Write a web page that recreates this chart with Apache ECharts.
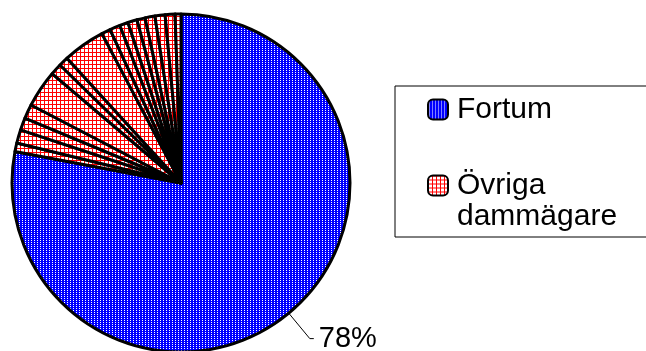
<!DOCTYPE html>
<html>
<head>
<meta charset="utf-8">
<script src="https://cdn.jsdelivr.net/npm/echarts@6/dist/echarts.min.js"></script>
<style>
html,body{margin:0;padding:0;background:#fff;}
#chart{width:646px;height:351px;}
</style>
</head>
<body>
<div id="chart"></div>
<script>
// ---- data ----
const categories = ['Fortum', 'Övriga dammägare'];
const fortumShare = [78];
// small owners, clockwise from the Fortum boundary up to 12 o'clock (percent)
const otherOwnerShares = [0.81, 1.28, 1.19, 1.36, 3.56, 1.11, 0.92, 4.03, 0.86, 1.0, 0.81, 0.89, 0.78, 0.94, 0.97, 0.94, 0.56];

function makePattern(w, h, bg, fg, pixels) {
  const c = document.createElement('canvas');
  c.width = w; c.height = h;
  const ctx = c.getContext('2d');
  ctx.fillStyle = bg; ctx.fillRect(0, 0, w, h);
  ctx.fillStyle = fg;
  pixels.forEach(p => ctx.fillRect(p[0], p[1], 1, 1));
  return { image: c, repeat: 'repeat' };
}
const bluePattern = makePattern(3, 2, '#0000ff', '#ffffff', [[1, 0]]);
const redPixels = [];
for (let i = 0; i < 4; i++) { redPixels.push([0, i]); redPixels.push([i, 0]); }
const redPattern = makePattern(4, 4, '#ffffff', '#ff0000', redPixels);

const border = { borderColor: '#000', borderWidth: 3 };
const pieData = [];
fortumShare.forEach(v => pieData.push({
  name: categories[0], value: v,
  itemStyle: Object.assign({ color: bluePattern }, border),
  label: { show: true },
  labelLine: { show: true }
}));
otherOwnerShares.forEach(v => pieData.push({
  name: categories[1], value: v,
  itemStyle: Object.assign({ color: redPattern }, border)
}));

const chart = echarts.init(document.getElementById('chart'), null, { renderer: 'canvas' });
chart.setOption({
  animation: false,
  backgroundColor: '#fff',
  legend: {
    orient: 'vertical',
    left: 395, top: 86,
    padding: [8, 60, 5, 32],
    borderColor: '#000', borderWidth: 1,
    itemWidth: 20, itemHeight: 20,
    itemGap: 14,
    itemStyle: { borderWidth: 2, borderColor: '#000' },
    selectedMode: false,
    textStyle: { fontFamily: 'Liberation Sans, Arial', fontSize: 30, color: '#000', lineHeight: 31, padding: [0, 0, 0, 4] },
    formatter: n => n === categories[1] ? ' \nÖvriga\ndammägare' : n,
    data: [categories[0], categories[1]]
  },
  series: [{
    type: 'pie',
    center: [181, 183],
    radius: 169,
    startAngle: 90,
    clockwise: true,
    avoidLabelOverlap: false,
    emphasis: { disabled: true },
    label: {
      show: false,
      position: 'outside',
      fontFamily: 'Liberation Sans, Arial',
      fontSize: 29,
      color: '#000',
      formatter: p => Math.round(p.percent) + '%'
    },
    labelLine: {
      show: false,
      length: 33,
      length2: 4,
      lineStyle: { color: '#000', width: 1 }
    },
    data: pieData
  }]
});
</script>
</body>
</html>
